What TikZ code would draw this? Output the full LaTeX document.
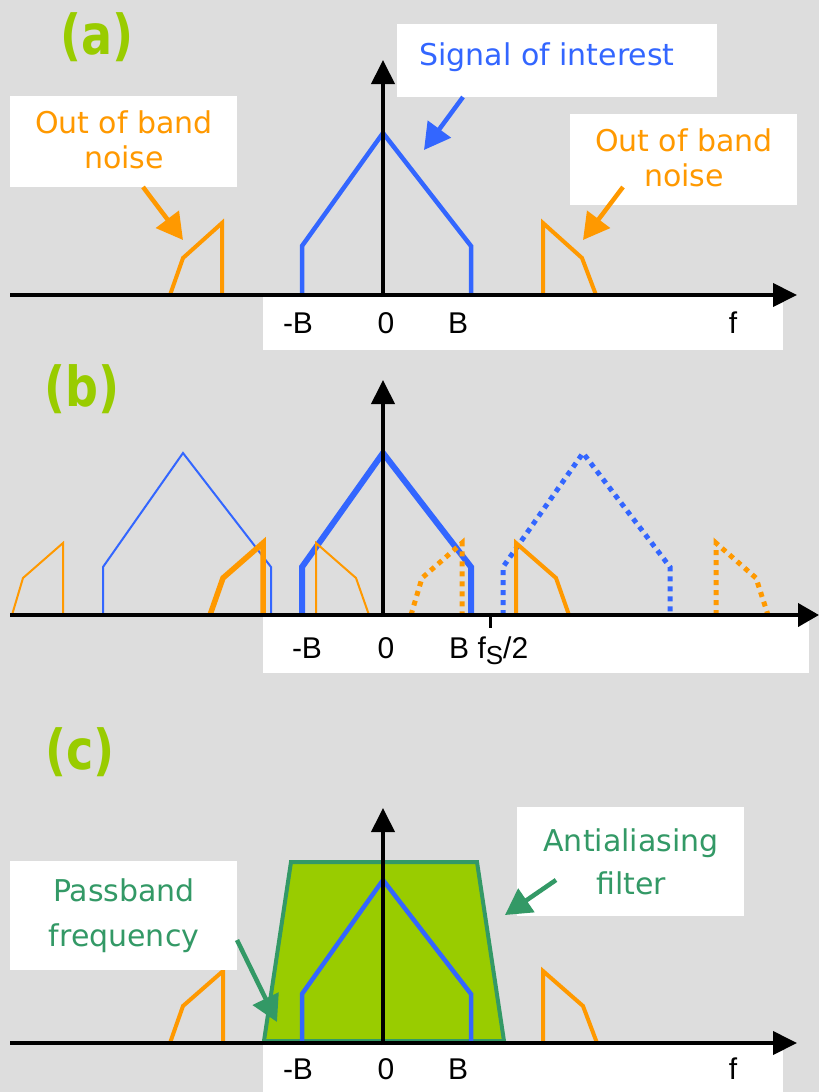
\documentclass[tikz,border=0pt]{standalone}
\usepackage{fontspec}
\usepackage{graphicx}
\usetikzlibrary{arrows.meta}
\newfontfamily\cmc{DejaVu Sans}
\newfontfamily\lab{Liberation Sans}
\definecolor{bgc}{HTML}{DDDDDD}
\definecolor{sblue}{HTML}{3366FF}
\definecolor{sorange}{HTML}{FF9900}
\definecolor{tgreen}{HTML}{339966}
\definecolor{lgreen}{HTML}{99CC00}
\begin{document}
\begin{tikzpicture}[x=1pt,y=-1pt,
 axis/.style={line width=4pt,-{Triangle[length=24pt,width=23pt]}},
 sig/.style={draw=sblue,line width=4.5pt},
 sigthin/.style={draw=sblue,line width=2pt},
 noi/.style={draw=sorange,line width=4pt},
 noithick/.style={draw=sorange,line width=5.5pt},
 noithin/.style={draw=sorange,line width=2pt},
 dotline/.style={line width=5pt,dash pattern=on 5pt off 5pt},
 callout/.style={line width=4.5pt,-{Triangle[length=26pt,width=28pt]}},
 wbox/.style={fill=white,draw=none,inner sep=0pt,outer sep=0pt},
 ctext/.style={font=\cmc\fontsize{30}{35}\selectfont,align=center,inner sep=0pt},
 albl/.style={font=\lab\fontsize{30}{30}\selectfont,anchor=base,inner sep=0pt},
 plbl/.style={text=lgreen,font=\cmc\bfseries\fontsize{46}{46}\selectfont,inner sep=0pt},
 tickm/.style={line width=3pt}
]
\fill[bgc] (0,0) rectangle (819,1092);
\useasboundingbox (0,0) rectangle (819,1092);

% ================= (a) =================
\node[plbl] (pa) at (97,37) {\scalebox{1}[1.2]{(a)}};
\node[wbox,minimum width=520pt,minimum height=53pt] (la) at (523,323.5) {};
\node[albl] (am) at (298,333) {-B};
\node[albl] (a0) at (386,333) {0};
\node[albl] (ab) at (458,333) {B};
\node[albl] (af) at (733,333) {f};
% signal
\draw[sig] (302,295) -- (302,246) -- (383,133) -- (471,246) -- (471,295);
% noise
\draw[noi] (170,295) -- (183,258) -- (222,223) -- (222,295);
\draw[noi] (543,295) -- (543,223) -- (582,258) -- (596,295);
% axes
\coordinate (ah0) at (10,295); \coordinate (ah1) at (797,295);
\coordinate (av0) at (383,297); \coordinate (av1) at (383,60);
\draw[axis] (ah0) -- (ah1);
\draw[axis] (av0) -- (av1);
% callouts
\node[wbox,minimum width=227pt,minimum height=91pt] (nbl) at (123.5,141.5) {};
\node[ctext,text=sorange] (nbltx) at (124,139.5) {Out of band\\noise};
\node[wbox,minimum width=227pt,minimum height=91pt] (nbr) at (683.5,159.5) {};
\node[ctext,text=sorange] (nbrtx) at (684,157.5) {Out of band\\noise};
\node[wbox,minimum width=320pt,minimum height=73pt] (sbox) at (557,60.5) {};
\node[ctext,text=sblue] (stx) at (547,57) {Signal of interest};
\coordinate (c1s) at (143,187); \coordinate (c1e) at (183,240);
\coordinate (c2s) at (623,187); \coordinate (c2e) at (583,240);
\coordinate (c3s) at (463,97);  \coordinate (c3e) at (424,150);
\draw[callout,sorange] (c1s) -- (c1e);
\draw[callout,sorange] (c2s) -- (c2e);
\draw[callout,sblue] (c3s) -- (c3e);

% ================= (b) =================
\node[plbl] (pb) at (82,389) {\scalebox{1}[1.2]{(b)}};
\node[wbox,minimum width=546pt,minimum height=56pt] (lb) at (536,645) {};
\node[albl] (bm) at (307,658) {-B};
\node[albl] (b0) at (386,658) {0};
\node[albl,anchor=base west] (bb) at (449,658) {B f\raisebox{-6pt}{\fontsize{26}{26}\selectfont S}/2};
% blue spectra
\draw[sigthin] (103,615) -- (103,567) -- (183,453) -- (271,567) -- (271,615);
\draw[sig,line width=6pt] (302,615) -- (302,567) -- (383,453) -- (471,567) -- (471,615);
\draw[sblue,dotline] (503,615) -- (503,567) -- (583,453) -- (670,567) -- (670,615);
% orange spectra
\draw[noithin] (12,615) -- (23,578) -- (63,543) -- (63,615);
\draw[noithick] (210,615) -- (223,578) -- (263,543) -- (263,615);
\draw[noithin] (316,615) -- (316,543) -- (356,578) -- (369,615);
\draw[sorange,dotline] (411,615) -- (422,578) -- (462,543) -- (462,615);
\draw[noi] (516,615) -- (516,543) -- (556,578) -- (569,615);
\draw[sorange,dotline] (716,615) -- (716,543) -- (756,578) -- (768,615);
% axes
\coordinate (bh0) at (10,615); \coordinate (bh1) at (819,615);
\coordinate (bv0) at (383,617); \coordinate (bv1) at (383,380);
\draw[axis,-{Triangle[length=21pt,width=23pt]}] (bh0) -- (bh1);
\draw[axis] (bv0) -- (bv1);
\coordinate (bt0) at (490,615); \coordinate (bt1) at (490,628);
\draw[tickm] (bt0) -- (bt1);

% ================= (c) =================
\node[plbl] (pc) at (80,752) {\scalebox{1}[1.2]{(c)}};
\node[wbox,minimum width=520pt,minimum height=47pt] (lc) at (523,1068.5) {};
\node[albl] (cm) at (298,1079) {-B};
\node[albl] (c0) at (386,1079) {0};
\node[albl] (cb) at (458,1079) {B};
\node[albl] (cf) at (733,1079) {f};
% filter
\draw[fill=lgreen,draw=tgreen,line width=4pt,line join=miter] (264,1041) -- (291,862) -- (477,862) -- (504,1041) -- cycle;
% signal and noise
\draw[sig] (302,1043) -- (302,994) -- (383,880) -- (471,994) -- (471,1043);
\draw[noi] (170,1043) -- (183,1006) -- (223,971) -- (223,1043);
\draw[noi] (543,1043) -- (543,971) -- (583,1006) -- (597,1043);
% axes
\coordinate (ch0) at (10,1043); \coordinate (ch1) at (797,1043);
\coordinate (cv0) at (383,1045); \coordinate (cv1) at (383,808);
\draw[axis] (ch0) -- (ch1);
\draw[axis] (cv0) -- (cv1);
% callouts
\node[wbox,minimum width=227pt,minimum height=109pt] (pbb) at (123.5,915.5) {};
\node[ctext,text=tgreen,font=\cmc\fontsize{30}{45}\selectfont] (pbtx) at (124,915.5) {Passband\\frequency};
\node[wbox,minimum width=227pt,minimum height=109pt] (aab) at (630.5,861.5) {};
\node[ctext,text=tgreen,font=\cmc\fontsize{30}{43}\selectfont] (aatx) at (631,861.5) {Antialiasing\\filter};
\coordinate (c4s) at (237,940); \coordinate (c4e) at (277,1022);
\coordinate (c5s) at (556,880); \coordinate (c5e) at (505,915);
\draw[callout,tgreen] (c4s) -- (c4e);
\draw[callout,tgreen] (c5s) -- (c5e);
\end{tikzpicture}
\end{document}
